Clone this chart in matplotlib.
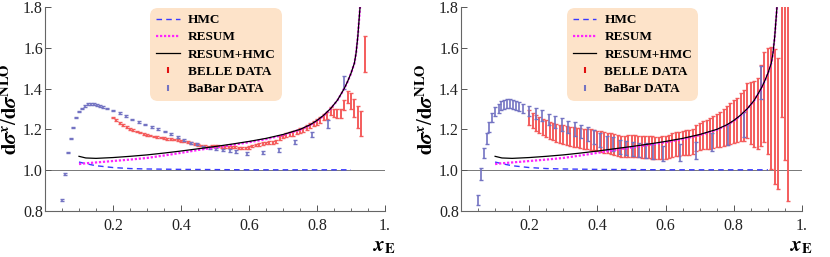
import matplotlib
matplotlib.use("Agg")
import matplotlib.pyplot as plt
from matplotlib.lines import Line2D
from matplotlib.ticker import MultipleLocator, FixedLocator

plt.rcParams['font.family'] = ['Liberation Serif', 'DejaVu Serif']
plt.rcParams['mathtext.fontset'] = 'stix'

# ---------------- theory curves ----------------
curve_x = [0.10, 0.12, 0.15, 0.20, 0.25, 0.30, 0.35, 0.40, 0.45, 0.50, 0.55, 0.60,
           0.65, 0.70, 0.75, 0.78, 0.80, 0.82, 0.84, 0.86, 0.88, 0.89, 0.90, 0.91,
           0.915, 0.92, 0.925, 0.928]
resum_hmc = [1.068, 1.060, 1.058, 1.062, 1.068, 1.075, 1.084, 1.094, 1.105, 1.116, 1.128, 1.141,
             1.156, 1.175, 1.200, 1.223, 1.244, 1.270, 1.302, 1.343, 1.400, 1.435, 1.475, 1.525,
             1.575, 1.655, 1.765, 1.830]
resum = [1.030, 1.034, 1.038, 1.045, 1.052, 1.060, 1.072, 1.085, 1.099, 1.111, 1.124, 1.137,
         1.152, 1.172, 1.198, 1.221, 1.242, 1.268, 1.301, 1.342, 1.399, 1.434, 1.474, 1.524,
         1.574, 1.654, 1.764, 1.829]
hmc_x = [0.10, 0.12, 0.15, 0.20, 0.25, 0.30, 0.40, 0.50, 0.60, 0.70, 0.80, 0.90]
hmc = [1.040, 1.032, 1.022, 1.013, 1.008, 1.006, 1.004, 1.003, 1.002, 1.002, 1.002, 1.002]

# ---------------- BaBar data ----------------
babar_x = [0.050, 0.059, 0.067, 0.075, 0.083, 0.092, 0.101, 0.110, 0.118, 0.126, 0.134, 0.143,
           0.152, 0.161, 0.170, 0.181, 0.199, 0.220, 0.238, 0.257, 0.276, 0.295, 0.314, 0.333,
           0.353, 0.372, 0.390, 0.409, 0.428, 0.447, 0.466, 0.485, 0.503, 0.523, 0.543, 0.562,
           0.593, 0.642, 0.689, 0.735, 0.784, 0.831, 0.879]
babar_y = [0.852, 0.981, 1.086, 1.155, 1.210, 1.259, 1.287, 1.303, 1.316, 1.323, 1.325, 1.325,
           1.321, 1.316, 1.310, 1.302, 1.292, 1.279, 1.267, 1.249, 1.237, 1.224, 1.211, 1.202,
           1.190, 1.177, 1.161, 1.148, 1.133, 1.127, 1.115, 1.110, 1.104, 1.100, 1.096, 1.091,
           1.083, 1.086, 1.097, 1.138, 1.175, 1.225, 1.430]
babar_err_stat = [0.005, 0.004, 0.004, 0.004, 0.004, 0.004, 0.004, 0.004, 0.004, 0.004, 0.004, 0.004,
                  0.004, 0.004, 0.004, 0.004, 0.004, 0.004, 0.004, 0.004, 0.004, 0.004, 0.004, 0.004,
                  0.004, 0.005, 0.005, 0.005, 0.005, 0.005, 0.005, 0.006, 0.006, 0.006, 0.006, 0.006,
                  0.007, 0.008, 0.010, 0.012, 0.014, 0.020, 0.030]
babar_err_tot = [0.025, 0.030, 0.025, 0.025, 0.025, 0.023, 0.022, 0.022, 0.022, 0.022, 0.022, 0.022,
                 0.022, 0.022, 0.022, 0.023, 0.025, 0.026, 0.027, 0.028, 0.029, 0.030, 0.031, 0.032,
                 0.033, 0.034, 0.035, 0.035, 0.035, 0.035, 0.035, 0.035, 0.035, 0.035, 0.036, 0.036,
                 0.036, 0.040, 0.040, 0.045, 0.050, 0.062, 0.080]

# ---------------- BELLE data ----------------
belle_x = [0.20, 0.21, 0.22, 0.23, 0.24, 0.25, 0.26, 0.27, 0.28, 0.29,
           0.30, 0.31, 0.32, 0.33, 0.34, 0.35, 0.36, 0.37, 0.38, 0.39,
           0.40, 0.41, 0.42, 0.43, 0.44, 0.45, 0.46, 0.47, 0.48, 0.49,
           0.50, 0.51, 0.52, 0.53, 0.54, 0.55, 0.56, 0.57, 0.58, 0.59,
           0.60, 0.61, 0.62, 0.63, 0.64, 0.65, 0.66, 0.67, 0.68, 0.69,
           0.70, 0.71, 0.72, 0.73, 0.74, 0.75, 0.76, 0.77, 0.78, 0.79,
           0.80, 0.81, 0.82, 0.83, 0.84, 0.85, 0.86, 0.87, 0.88, 0.89,
           0.90, 0.91, 0.92, 0.93, 0.94, 0.95, 0.96]
belle_y = [1.258, 1.245, 1.232, 1.222, 1.212, 1.203, 1.196, 1.190, 1.184, 1.178,
           1.174, 1.170, 1.166, 1.163, 1.160, 1.157, 1.154, 1.152, 1.150, 1.147,
           1.144, 1.141, 1.137, 1.133, 1.129, 1.125, 1.121, 1.118, 1.117, 1.118,
           1.120, 1.118, 1.116, 1.115, 1.114, 1.113, 1.112, 1.110, 1.108, 1.110,
           1.112, 1.118, 1.123, 1.127, 1.130, 1.133, 1.135, 1.137, 1.140, 1.158,
           1.166, 1.172, 1.176, 1.180, 1.188, 1.195, 1.198, 1.208, 1.220, 1.230,
           1.238, 1.246, 1.260, 1.270, 1.292, 1.280, 1.276, 1.278, 1.318, 1.360,
           1.340, 1.305, 1.262, 1.230, 1.570, 1.950, 2.000]
belle_err_stat = [0.004, 0.004, 0.004, 0.004, 0.004, 0.004, 0.004, 0.004, 0.004, 0.004,
                  0.004, 0.004, 0.004, 0.004, 0.004, 0.004, 0.004, 0.004, 0.004, 0.004,
                  0.004, 0.004, 0.004, 0.004, 0.004, 0.004, 0.004, 0.004, 0.004, 0.004,
                  0.005, 0.005, 0.005, 0.005, 0.005, 0.005, 0.005, 0.005, 0.005, 0.005,
                  0.006, 0.006, 0.006, 0.006, 0.006, 0.006, 0.007, 0.007, 0.007, 0.008,
                  0.008, 0.009, 0.009, 0.010, 0.010, 0.011, 0.011, 0.012, 0.012, 0.013,
                  0.014, 0.015, 0.016, 0.017, 0.020, 0.020, 0.022, 0.022, 0.025, 0.030,
                  0.040, 0.045, 0.055, 0.060, 0.090, 0.100, 0.120]
belle_err_tot = [0.036, 0.037, 0.038, 0.039, 0.040, 0.041, 0.042, 0.043, 0.044, 0.045,
                 0.046, 0.047, 0.047, 0.048, 0.048, 0.049, 0.049, 0.050, 0.050, 0.050,
                 0.050, 0.050, 0.051, 0.051, 0.051, 0.052, 0.052, 0.052, 0.052, 0.053,
                 0.053, 0.053, 0.053, 0.054, 0.054, 0.054, 0.055, 0.055, 0.055, 0.056,
                 0.056, 0.057, 0.057, 0.058, 0.058, 0.059, 0.060, 0.061, 0.063, 0.065,
                 0.067, 0.069, 0.072, 0.075, 0.078, 0.082, 0.086, 0.090, 0.095, 0.100,
                 0.105, 0.110, 0.118, 0.125, 0.135, 0.150, 0.160, 0.175, 0.200, 0.220,
                 0.260, 0.300, 0.330, 0.320, 0.310, 0.900, 1.150]

x_ticks = [0.2, 0.4, 0.6, 0.8, 1.0]
x_ticklabels = ['0.2', '0.4', '0.6', '0.8', '1.']
y_ticks = [0.8, 1.0, 1.2, 1.4, 1.6, 1.8]
y_ticklabels = ['0.8', '1.0', '1.2', '1.4', '1.6', '1.8']

legend_labels = ['HMC', 'RESUM', 'RESUM+HMC', 'BELLE DATA', 'BaBar DATA']

C_HMC = '#3a3aff'
C_RES = '#ff22ff'
C_BELLE = '#f45c5c'
C_BELLE_CAP = '#e01010'
C_BABAR = '#7373c2'
C_BABAR_CAP = '#4545a0'

fig = plt.figure(figsize=(8.30, 2.57), dpi=100)
ax1 = fig.add_axes([45 / 830, 46 / 257, 340 / 830, 204 / 257])
ax2 = fig.add_axes([461 / 830, 46 / 257, 341 / 830, 204 / 257])


def draw_panel(ax, babar_err, belle_err, belle_lw, babar_lw):
    ax.axhline(1.0, color='#777777', lw=0.7, zorder=1)
    eb = ax.errorbar(belle_x, belle_y, yerr=belle_err, fmt='none', ecolor=C_BELLE,
                     elinewidth=belle_lw, capsize=1.2, capthick=1.0, zorder=3)
    for c in eb[1]:
        c.set_color(C_BELLE_CAP)
    eb2 = ax.errorbar(babar_x, babar_y, yerr=babar_err, fmt='none', ecolor=C_BABAR,
                      elinewidth=babar_lw, capsize=1.2, capthick=1.0, zorder=3)
    for c in eb2[1]:
        c.set_color(C_BABAR_CAP)
    ax.plot(hmc_x, hmc, color=C_HMC, lw=1.0, ls=(0, (4, 3)), zorder=4)
    ax.plot(curve_x, resum, color=C_RES, lw=1.6, ls=(0, (1, 0.8)), zorder=4)
    ax.plot(curve_x, resum_hmc, color='black', lw=0.9, zorder=5)

    ax.set_xlim(0, 1.0)
    ax.set_ylim(0.8, 1.8)
    for s in ['top', 'right']:
        ax.spines[s].set_visible(False)
    for s in ['left', 'bottom']:
        ax.spines[s].set_color('#666666')
        ax.spines[s].set_linewidth(0.8)
    ax.xaxis.set_major_locator(FixedLocator(x_ticks))
    ax.set_xticklabels(x_ticklabels)
    ax.xaxis.set_minor_locator(MultipleLocator(0.05))
    ax.yaxis.set_major_locator(FixedLocator(y_ticks))
    ax.set_yticklabels(y_ticklabels)
    ax.tick_params(axis='both', which='major', direction='in', length=4, width=0.7,
                   color='#555555', labelsize=11.5, labelcolor='#222222')
    ax.tick_params(axis='x', which='major', pad=5)
    ax.tick_params(axis='y', which='major', pad=1.5)
    ax.tick_params(axis='x', which='minor', direction='in', length=2, width=0.6, color='#555555')
    ax.patch.set_alpha(0)

    ax.set_ylabel(r'$\mathbf{d}\boldsymbol{\sigma}^{\boldsymbol{x}}/\mathbf{d}\boldsymbol{\sigma}^{\mathbf{NLO}}$',
                  fontsize=15, labelpad=1)
    ax.text(1.0, -0.175, r'$\boldsymbol{x}_{\mathbf{E}}$', transform=ax.transAxes,
            ha='center', va='center', fontsize=15)

    handles = [
        Line2D([], [], color=C_HMC, lw=1.0, ls=(0, (4, 3))),
        Line2D([], [], color=C_RES, lw=1.6, ls=(0, (1, 0.8))),
        Line2D([], [], color='black', lw=0.9),
        Line2D([], [], ls='none', marker='|', color=C_BELLE_CAP, ms=4, mew=1.5),
        Line2D([], [], ls='none', marker='|', color=C_BABAR, ms=4, mew=1.5),
    ]
    leg = ax.legend(handles, legend_labels, loc='upper left', bbox_to_anchor=(0.31, 0.995),
                    frameon=True, fancybox=True, facecolor='#fde3c9', edgecolor='none',
                    framealpha=1.0, prop={'weight': 'bold', 'size': 9.5, 'family': 'Liberation Serif'},
                    handlelength=1.8, handletextpad=0.6, labelspacing=0.38, borderpad=0.45,
                    borderaxespad=0)
    leg.get_frame().set_boxstyle('round,pad=0,rounding_size=0.6')


draw_panel(ax1, babar_err_stat, belle_err_stat, 1.4, 1.2)
draw_panel(ax2, babar_err_tot, belle_err_tot, 1.4, 1.2)

fig.savefig('out.png', dpi=100)
